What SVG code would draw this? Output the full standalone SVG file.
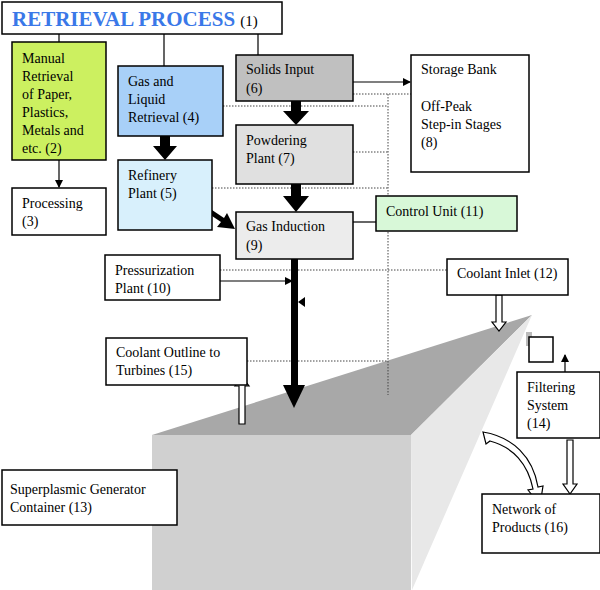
<svg xmlns="http://www.w3.org/2000/svg" width="600" height="590" viewBox="0 0 600 590">
<defs>
<style>
text{font-family:"Liberation Serif","Times New Roman",serif;font-size:14px;fill:#000}
.b{stroke:#000;stroke-width:1.5}
.th{stroke:#000;stroke-width:1.2;fill:none}
.dot{stroke:#444;stroke-width:1;stroke-dasharray:1.5 1.5;fill:none}
.hol{fill:#fff;stroke:#000;stroke-width:1.2}
</style>
<marker id="a" markerWidth="8" markerHeight="8" refX="7" refY="4" orient="auto" markerUnits="userSpaceOnUse"><path d="M0,0L8,4L0,8z" fill="#000"/></marker>
</defs>
<rect width="600" height="590" fill="#fff"/>
<g id="container-shape">
<polygon points="152,435 411,435 532,315" fill="#a8a8a8"/>
<rect x="152" y="435" width="259" height="155" fill="#d0d0d0"/>
<polygon points="411,435 532,315 412,590" fill="#e8e8e8"/>
</g>
<g id="connectors">
<path class="th" d="M59,34V42M164,34V66M258,34V55"/>
<path class="th" d="M59,160V187" marker-end="url(#a)"/>
<path class="th" d="M353,82H410" marker-end="url(#a)"/>
<path class="th" d="M353,222H376"/>
<path class="th" d="M220,281H292" marker-end="url(#a)"/>
<path class="th" d="M565,372V355" marker-end="url(#a)"/>
<path class="dot" d="M353,94H411M388,94V395M223,106H388M353,152H388M212,188H388M220,270H447M247,361H388"/>
<path d="M160,136h10v10h7l-12,14l-12,-14h7z"/>
<path d="M291,101h10v10h8l-13,14l-13,-14h8z"/>
<path d="M291,184h10v12h8l-13,16l-13,-16h8z"/>
<path d="M212,210l12,8l3,-5l8,16l-18,-2l4,-5l-12,-8z"/>
<rect x="291" y="251" width="7" height="136"/>
<path d="M283,385h22l-11,23z"/>
<path d="M298,302l7,-5v10z"/>
<path class="hol" d="M496,295h6v27h4l-7,9l-7,-9h4z"/>
<path class="hol" d="M239,424h6v-38h4l-7,-9l-7,9h4z"/>
<path class="hol" d="M567,440h6v44h4l-7,10l-7,-10h4z"/>
<path class="hol" d="M483,432c30,5 50,25 55,55l5,-1l-3,19l-12,-15l5,-1c-5,-25 -20,-42 -43,-48l-4,3z" fill="#ddd"/>
</g>
<g id="n1"><rect class="b" x="2" y="2" width="280" height="32" fill="#fff"/><text x="12" y="26" style="font-size:21px;font-weight:bold;fill:#3a78e8">RETRIEVAL PROCESS <tspan style="font-size:15px;font-weight:normal;fill:#000">(1)</tspan></text></g>
<g id="n2"><rect class="b" x="12" y="42" width="94" height="118" fill="#ccf060"/><text x="22" y="63">Manual</text><text x="22" y="81">Retrieval</text><text x="22" y="99">of Paper,</text><text x="22" y="117">Plastics,</text><text x="22" y="135">Metals and</text><text x="22" y="153">etc. (2)</text></g>
<g id="n3"><rect class="b" x="12" y="188" width="94" height="47" fill="#fff"/><text x="22" y="208">Processing</text><text x="22" y="226">(3)</text></g>
<g id="n4"><rect class="b" x="118" y="66" width="105" height="70" fill="#a8d0f8"/><text x="128" y="86">Gas and</text><text x="128" y="104">Liquid</text><text x="128" y="122">Retrieval (4)</text></g>
<g id="n5"><rect class="b" x="118" y="160" width="94" height="70" fill="#d8f0fc"/><text x="128" y="180">Refinery</text><text x="128" y="198">Plant (5)</text></g>
<g id="n6"><rect class="b" x="236" y="55" width="117" height="46" fill="#c0c0c0"/><text x="246" y="74">Solids Input</text><text x="246" y="93">(6)</text></g>
<g id="n7"><rect class="b" x="236" y="125" width="117" height="59" fill="#e0e0e0"/><text x="246" y="145">Powdering</text><text x="246" y="163">Plant (7)</text></g>
<g id="n8"><rect class="b" x="411" y="55" width="118" height="117" fill="#fff"/><text x="421" y="74">Storage Bank</text><text x="421" y="111">Off-Peak</text><text x="421" y="129">Step-in Stages</text><text x="421" y="147">(8)</text></g>
<g id="n9"><rect class="b" x="236" y="212" width="117" height="47" fill="#ececec"/><text x="246" y="231">Gas Induction</text><text x="246" y="250">(9)</text></g>
<g id="n10"><rect class="b" x="105" y="255" width="115" height="45" fill="#fff"/><text x="115" y="275">Pressurization</text><text x="115" y="293">Plant (10)</text></g>
<g id="n11"><rect class="b" x="376" y="196" width="141" height="35" fill="#d8f8d8"/><text x="386" y="216">Control Unit (11)</text></g>
<g id="n12"><rect class="b" x="447" y="259" width="121" height="36" fill="#fff"/><text x="457" y="278">Coolant Inlet (12)</text></g>
<g id="n13"><rect class="b" x="2" y="470" width="175" height="55" fill="#fff"/><text x="10" y="494">Superplasmic Generator</text><text x="10" y="512">Container (13)</text></g>
<g id="n14"><rect class="b" x="517" y="372" width="83" height="66" fill="#fff"/><text x="527" y="392">Filtering</text><text x="527" y="410">System</text><text x="527" y="428">(14)</text></g>
<g id="n14b"><rect x="526" y="332" width="6" height="14" fill="#bbb"/><rect class="b" x="529" y="337" width="24" height="25" fill="#fff"/></g>
<g id="n15"><rect class="b" x="106" y="338" width="141" height="47" fill="#fff"/><text x="116" y="357">Coolant Outline to</text><text x="116" y="375">Turbines (15)</text></g>
<g id="n16"><rect class="b" x="482" y="494" width="118" height="59" fill="#fff"/><text x="492" y="514">Network of</text><text x="492" y="532">Products (16)</text></g>
</svg>
